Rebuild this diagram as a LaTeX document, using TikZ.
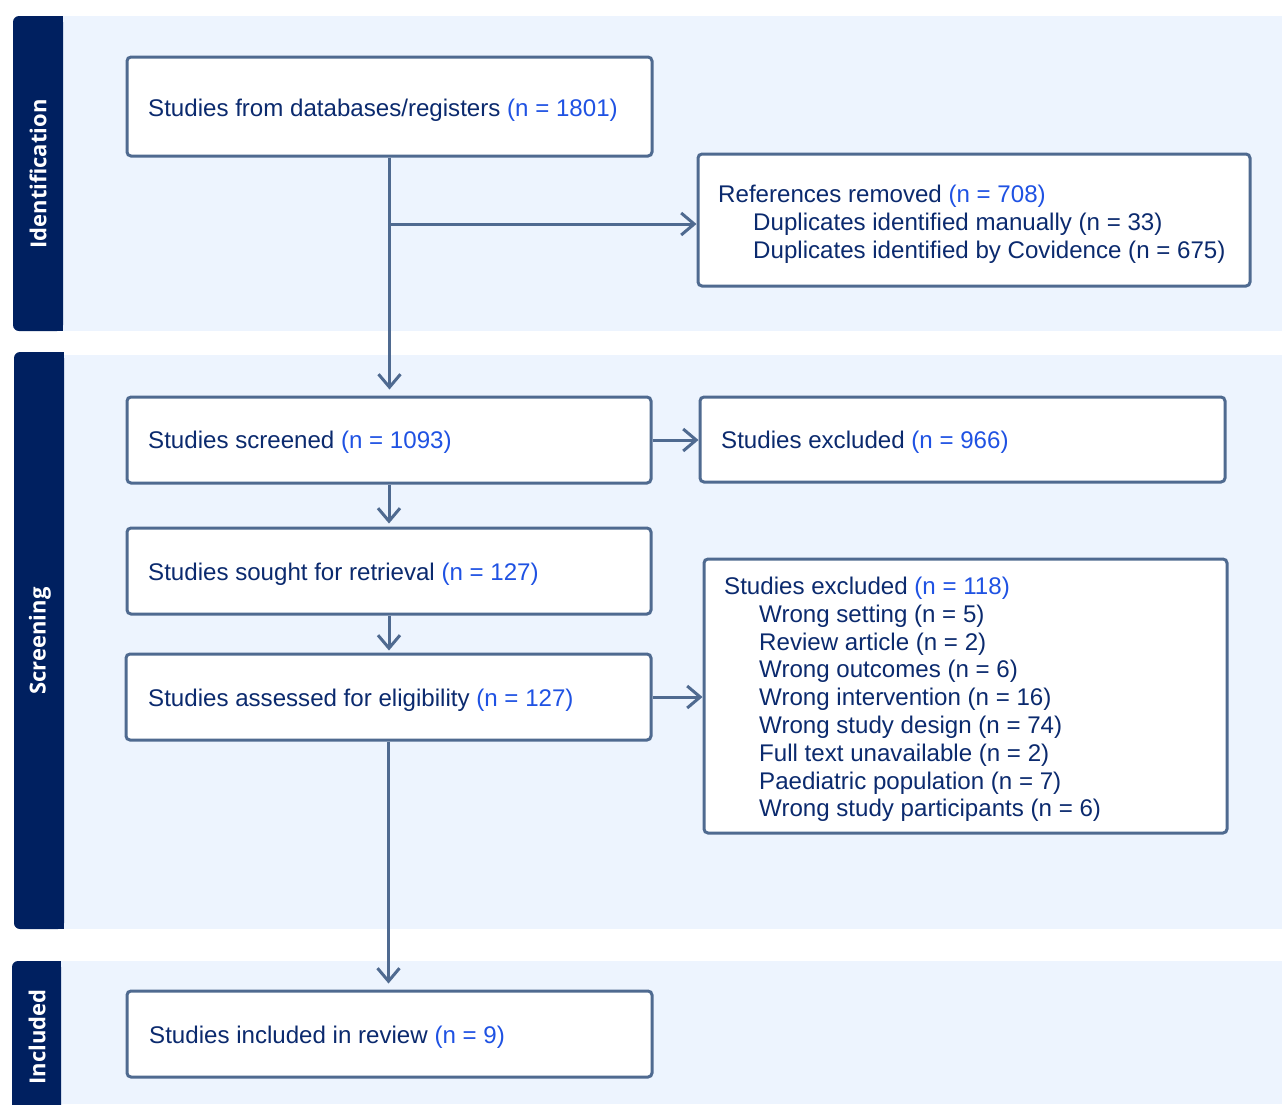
\documentclass[tikz,border=0pt]{standalone}
\usepackage{fontspec}
\setmainfont{Liberation Sans}
\newfontfamily\labfont{Open Sans}
\usetikzlibrary{arrows.meta}
\definecolor{navy}{HTML}{002060}
\definecolor{panel}{HTML}{EDF4FE}
\definecolor{boxline}{HTML}{4F6A90}
\definecolor{txt}{HTML}{0B2A6E}
\definecolor{num}{HTML}{1F52E3}
\newcommand{\nnum}[1]{\textcolor{num}{#1}}
\newcommand{\ind}{\hspace*{35pt}}
\begin{document}
\begin{tikzpicture}[x=1pt,y=-1pt,
  box/.style={draw=boxline, line width=3pt, fill=white, rounded corners=4pt, inner sep=0pt, anchor=center},
  tx/.style={align=left, text=txt, font=\fontsize{24.1}{27.8}\selectfont, inner sep=0pt, anchor=west},
  arr/.style={draw=boxline, line width=3pt, -{Straight Barb[length=13pt,width=22pt]}},
  lab/.style={rotate=90, text=white, font=\labfont\bfseries\fontsize{22}{24}\selectfont}]
% page
\fill[white] (0,0) rectangle (1282,1104);
\useasboundingbox (0,0) rectangle (1282,1104);
% panels
\fill[panel] (60,16) rectangle (1282,331);
\fill[panel] (60,355) rectangle (1282,929);
\fill[panel] (58,961) rectangle (1282,1104);
% bars
\fill[navy, rounded corners=6pt] (13,16) rectangle (63,331);
\fill[navy] (40,16) rectangle (63,331);
\fill[navy, rounded corners=6pt] (14,352) rectangle (64,929);
\fill[navy] (40,352) rectangle (64,929);
\fill[navy, rounded corners=6pt] (12,961) rectangle (61,1120);
\fill[navy] (40,961) rectangle (61,1104);
\node[lab] (lid) at (38,174) {Identification};
\node[lab] (lsc) at (40,641) {Screening};
\node[lab] (lin) at (37,1037) {Included};
% boxes
\node[box, minimum width=525pt, minimum height=99pt] (A) at (389.5,106.5) {};
\node[box, minimum width=552pt, minimum height=132pt] (B) at (974,220) {};
\node[box, minimum width=524pt, minimum height=86pt] (C) at (389,440) {};
\node[box, minimum width=525pt, minimum height=85pt] (D) at (962.5,439.5) {};
\node[box, minimum width=524pt, minimum height=86pt] (E) at (389,571) {};
\node[box, minimum width=525pt, minimum height=86pt] (F) at (388.5,697) {};
\node[box, minimum width=523pt, minimum height=274pt] (G) at (965.5,696) {};
\node[box, minimum width=525pt, minimum height=86pt] (H) at (389.5,1034) {};
% texts
\node[tx] (At) at (148,110) {Studies from databases/registers \nnum{(n = 1801)}};
\node[tx] (Bt) at (718,224.5) {References removed \nnum{(n = 708)}\\
   \ind Duplicates identified manually (n = 33)\\
   \ind Duplicates identified by Covidence (n = 675)};
\node[tx] (Ct) at (148,442) {Studies screened \nnum{(n = 1093)}};
\node[tx] (Dt) at (721,442) {Studies excluded \nnum{(n = 966)}};
\node[tx] (Et) at (148,574) {Studies sought for retrieval \nnum{(n = 127)}};
\node[tx] (Ft) at (148,700) {Studies assessed for eligibility \nnum{(n = 127)}};
\node[tx] (Gt) at (724,699.5) {Studies excluded \nnum{(n = 118)}\\
   \ind Wrong setting (n = 5)\\
   \ind Review article (n = 2)\\
   \ind Wrong outcomes (n = 6)\\
   \ind Wrong intervention (n = 16)\\
   \ind Wrong study design (n = 74)\\
   \ind Full text unavailable (n = 2)\\
   \ind Paediatric population (n = 7)\\
   \ind Wrong study participants (n = 6)};
\node[tx] (Ht) at (149,1037) {Studies included in review \nnum{(n = 9)}};
% connectors
\coordinate (br) at (389.5,224);
\draw[arr, shorten >=6pt] (A.south) -- (A.south |- C.north);
\draw[arr] (br) -- (br -| B.west);
\draw[arr] (C.east) -- (C.east -| D.west);
\draw[arr, shorten >=3pt] (C.south) -- (C.south |- E.north);
\draw[arr, shorten >=2pt] (E.south) -- (E.south |- F.north);
\draw[arr] (F.east) -- (F.east -| G.west);
\draw[arr, shorten >=6pt] (F.south) -- (F.south |- H.north);
\end{tikzpicture}
\end{document}
